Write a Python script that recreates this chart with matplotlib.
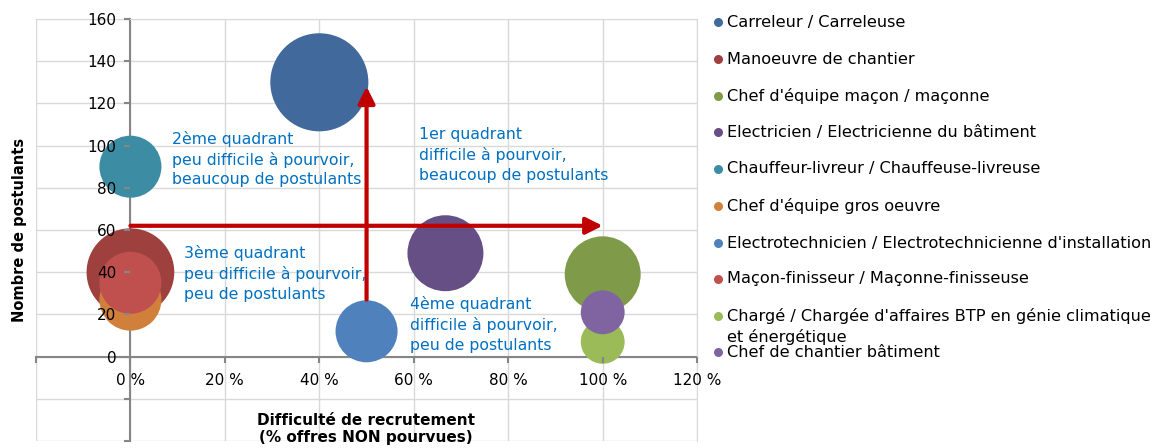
import matplotlib.pyplot as plt
from matplotlib.lines import Line2D
from matplotlib.ticker import FuncFormatter

plt.rcParams['font.family'] = ['DejaVu Sans']

# données
metiers = [
    "Carreleur / Carreleuse",
    "Manoeuvre de chantier",
    "Chef d'équipe maçon / maçonne",
    "Electricien / Electricienne du bâtiment",
    "Chauffeur-livreur / Chauffeuse-livreuse",
    "Chef d'équipe gros oeuvre",
    "Electrotechnicien / Electrotechnicienne d'installation",
    "Maçon-finisseur / Maçonne-finisseuse",
    "Chargé / Chargée d'affaires BTP en génie climatique\net énergétique",
    "Chef de chantier bâtiment",
]
difficulte = [0.40, 0.0, 1.0, 0.667, 0.0, 0.0, 0.50, 0.0, 1.0, 1.0]
postulants = [130, 40, 39, 49, 90, 27, 12, 35, 7, 21]
taille = [5, 4, 3, 3, 2, 2, 2, 2, 1, 1]
couleurs = ['#41699B', '#9E413E', '#7F9A48', '#664F84', '#3C8DA4',
            '#D0803A', '#4F81BD', '#C0504D', '#9BBB59', '#8064A2']

x_ticks = [-0.2, 0, 0.2, 0.4, 0.6, 0.8, 1.0, 1.2]
y_ticks = [-40, -20, 0, 20, 40, 60, 80, 100, 120, 140, 160]

quadrants = [
    (0.089, 93.7, "2ème quadrant\npeu difficile à pourvoir,\nbeaucoup de postulants"),
    (0.114, 39.3, "3ème quadrant\npeu difficile à pourvoir,\npeu de postulants"),
    (0.612, 95.6, "1er quadrant\ndifficile à pourvoir,\nbeaucoup de postulants"),
    (0.593, 15.1, "4ème quadrant\ndifficile à pourvoir,\npeu de postulants"),
]

fig = plt.figure(figsize=(11.6, 4.48), dpi=100)
ax = fig.add_axes([0.031, 0.0156, 0.570, 0.942])

ax.set_xlim(-0.2, 1.2)
ax.set_ylim(-40, 160)
ax.set_xticks(x_ticks)
ax.set_yticks(y_ticks)
ax.xaxis.set_major_formatter(FuncFormatter(lambda v, p: '' if v < -0.01 else f'{v*100:.0f} %'))
ax.yaxis.set_major_formatter(FuncFormatter(lambda v, p: '' if v < 0 else f'{v:.0f}'))

# quadrillage sous les bulles, étiquettes au-dessus
for v in x_ticks:
    ax.axvline(v, color='#D9D9D9', lw=1, zorder=0)
for v in y_ticks:
    ax.axhline(v, color='#D9D9D9', lw=1, zorder=0)
ax.xaxis.set_zorder(4)
ax.yaxis.set_zorder(4)

ax.spines['left'].set_position(('data', 0))
ax.spines['bottom'].set_position(('data', 0))
for s in ['left', 'bottom']:
    ax.spines[s].set_color('#868686')
    ax.spines[s].set_linewidth(1.5)
    ax.spines[s].set_zorder(1)
for s in ['top', 'right']:
    ax.spines[s].set_color('#D9D9D9')
ax.tick_params(axis='both', colors='#868686', labelcolor='black', labelsize=11, length=4, width=1.5)
ax.tick_params(axis='y', pad=6)
ax.tick_params(axis='x', pad=8)

# bulles
for i in range(len(metiers)):
    ax.scatter(difficulte[i], postulants[i], s=taille[i] * 997, color=couleurs[i],
               edgecolors='none', zorder=2)

# flèches
ax.annotate('', xy=(1.0, 62), xytext=(0.0, 62),
            arrowprops=dict(arrowstyle='-|>,head_length=1.0,head_width=0.5',
                            color='#C00000', lw=3, shrinkA=0, shrinkB=0), zorder=5)
ax.annotate('', xy=(0.5, 128), xytext=(0.5, 27),
            arrowprops=dict(arrowstyle='-|>,head_length=1.0,head_width=0.5',
                            color='#C00000', lw=3, shrinkA=0, shrinkB=0), zorder=5)

for x, y, t in quadrants:
    ax.text(x, y, t, color='#0070C0', fontsize=11.3, va='center', ha='left',
            linespacing=1.38, zorder=6)

fig.text(20 / 1160, 1 - 230 / 448, 'Nombre de postulants', rotation=90, fontsize=10.5,
         fontweight='bold', ha='center', va='center')
fig.text(366 / 1160, 1 - 429 / 448, 'Difficulté de recrutement\n(% offres NON pourvues)',
         fontsize=11, fontweight='bold', ha='center', va='center', linespacing=1.1)

# légende
leg_y = [22, 59, 96, 132, 169, 206, 243, 279, 316, 352]
for i in range(len(metiers)):
    y = 1 - leg_y[i] / 448
    fig.add_artist(Line2D([718 / 1160], [y], marker='o', markersize=6.5, color=couleurs[i],
                          markeredgewidth=0, transform=fig.transFigure))
    lignes = metiers[i].split('\n')
    for k, l in enumerate(lignes):
        fig.text(727 / 1160, y - k * 21 / 448, l, fontsize=11.6, ha='left', va='center')

fig.savefig('out.png', dpi=100)
